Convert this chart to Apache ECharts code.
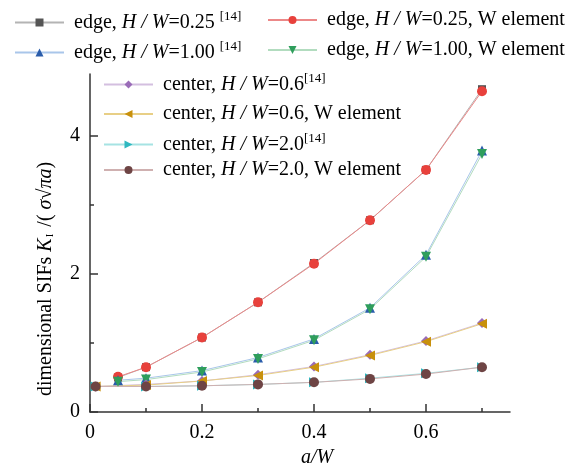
<!DOCTYPE html>
<html>
<head>
<meta charset="utf-8">
<script src="https://cdn.jsdelivr.net/npm/echarts@6/dist/echarts.min.js"></script>
<style>html,body{margin:0;padding:0;background:#fff}#c{width:588px;height:463px}</style>
</head>
<body>
<div id="c"></div>
<script>
// ---- data ----
const xEdge = [0.05, 0.1, 0.2, 0.3, 0.4, 0.5, 0.6, 0.7];
const edge025Ref = [0.50, 0.65, 1.08, 1.59, 2.16, 2.78, 3.51, 4.68];
const edge025W   = [0.51, 0.65, 1.08, 1.59, 2.15, 2.78, 3.51, 4.65];
const edge100Ref = [0.46, 0.49, 0.60, 0.79, 1.06, 1.51, 2.28, 3.79];
const edge100W   = [0.44, 0.47, 0.58, 0.77, 1.04, 1.49, 2.25, 3.74];
const xCenter = [0.01, 0.1, 0.2, 0.3, 0.4, 0.5, 0.6, 0.7];
const center06Ref = [0.37, 0.40, 0.45, 0.54, 0.66, 0.83, 1.03, 1.29];
const center06W   = [0.37, 0.39, 0.45, 0.53, 0.65, 0.82, 1.02, 1.28];
const center20Ref = [0.37, 0.37, 0.38, 0.40, 0.43, 0.49, 0.56, 0.65];
const center20W   = [0.37, 0.37, 0.38, 0.40, 0.43, 0.48, 0.55, 0.65];
const seriesNames = [
  'edge, H/W=0.25 [14]', 'edge, H/W=0.25, W element',
  'edge, H/W=1.00 [14]', 'edge, H/W=1.00, W element',
  'center, H/W=0.6[14]', 'center, H/W=0.6, W element',
  'center, H/W=2.0[14]', 'center, H/W=2.0, W element'
];
const legendRich = {
  'edge, H/W=0.25 [14]': '{n|edge, }{i|H / W}{n|=0.25 }{s|[14]}',
  'edge, H/W=0.25, W element': '{n|edge, }{i|H / W}{n|=0.25, W element}',
  'edge, H/W=1.00 [14]': '{n|edge, }{i|H / W}{n|=1.00 }{s|[14]}',
  'edge, H/W=1.00, W element': '{n|edge, }{i|H / W}{n|=1.00, W element}',
  'center, H/W=0.6[14]': '{n|center, }{i|H / W}{n|=0.6}{s|[14]}',
  'center, H/W=0.6, W element': '{n|center, }{i|H / W}{n|=0.6, W element}',
  'center, H/W=2.0[14]': '{n|center, }{i|H / W}{n|=2.0}{s|[14]}',
  'center, H/W=2.0, W element': '{n|center, }{i|H / W}{n|=2.0, W element}'
};
const xRange = { min: 0, max: 0.75, interval: 0.2 };
const yRange = { min: 0, max: 4.9, interval: 2 };
const xMajorTicks = [0, 0.2, 0.4, 0.6];
const xMinorTicks = [0.1, 0.3, 0.5, 0.7];
const yMajorTicks = [0, 2, 4];
const yMinorTicks = [1, 3];

const FONT = 'Liberation Serif';
const pair = (xs, ys) => xs.map((x, i) => [x, ys[i]]);

const styles = [
  { line: '#b4b4b4', mark: '#555555', symbol: 'rect', size: 8, rot: 0 },
  { line: '#ec8888', mark: '#e8413c', symbol: 'circle', size: 10, rot: 0 },
  { line: '#a9c6ea', mark: '#2a5caa', symbol: 'triangle', size: 10, rot: 0 },
  { line: '#b2dcbf', mark: '#2f9e5c', symbol: 'triangle', size: 10, rot: 180 },
  { line: '#d4bfe0', mark: '#9a6cb8', symbol: 'diamond', size: 10, rot: 0 },
  { line: '#e8cf86', mark: '#c8900c', symbol: 'triangle', size: 10, rot: 90 },
  { line: '#a6e3e3', mark: '#2fb8c0', symbol: 'triangle', size: 10, rot: -90 },
  { line: '#cfb0b0', mark: '#6e4444', symbol: 'circle', size: 10, rot: 0 }
];
const dataSets = [
  pair(xEdge, edge025Ref), pair(xEdge, edge025W),
  pair(xEdge, edge100Ref), pair(xEdge, edge100W),
  pair(xCenter, center06Ref), pair(xCenter, center06W),
  pair(xCenter, center20Ref), pair(xCenter, center20W)
];

const series = seriesNames.map((name, i) => ({
  name, type: 'line', data: dataSets[i],
  xAxisIndex: 0, yAxisIndex: 0,
  symbol: styles[i].symbol, symbolSize: styles[i].size, symbolRotate: styles[i].rot,
  showAllSymbol: true,
  lineStyle: { color: styles[i].line, width: 1 },
  itemStyle: { color: styles[i].mark },
  emphasis: { disabled: true },
  animation: false
}));

const rich = {
  n: { fontFamily: FONT, fontSize: 20, color: '#000' },
  i: { fontFamily: FONT, fontSize: 20, fontStyle: 'italic', color: '#000' },
  s: { fontFamily: FONT, fontSize: 13, color: '#000', padding: [0, 0, 12, 0] }
};
const legendPos = [
  { left: 14, top: 10 }, { left: 267, top: 10 },
  { left: 14, top: 40 }, { left: 267, top: 40 },
  { left: 103, top: 72 }, { left: 103, top: 104 },
  { left: 103, top: 132 }, { left: 103, top: 160 }
];
const legends = seriesNames.map((name, i) => ({
  data: [name], left: legendPos[i].left, top: legendPos[i].top,
  itemWidth: 49, itemHeight: 10, padding: 0,
  formatter: n => legendRich[n],
  textStyle: { fontFamily: FONT, fontSize: 20, color: '#000', rich, padding: [0, 0, 0, 5] },
  selectedMode: false
}));

const AX = '#333';
const tickStyle = { color: AX, width: 1.5 };
const chart = echarts.init(document.getElementById('c'));
chart.setOption({
  backgroundColor: '#fff',
  animation: false,
  legend: legends,
  grid: { left: 90, right: 78, top: 74, bottom: 51, outerBoundsMode: 'none', containLabel: false },
  xAxis: [{
    type: 'value', position: 'bottom', min: xRange.min, max: xRange.max, interval: xRange.interval,
    axisLine: { show: true, lineStyle: { color: AX, width: 1.5 } }, splitLine: { show: false },
    axisTick: { show: true, inside: false, length: -8, customValues: xMajorTicks, lineStyle: tickStyle },
    axisLabel: { fontFamily: FONT, fontSize: 20, color: '#000', margin: 11,
      customValues: xMajorTicks,
      formatter: v => (v === 0 ? '0' : String(+v.toFixed(1))) },
    name: '{i|a}{n|/}{i|W}', nameLocation: 'middle', nameGap: 30,
    nameTextStyle: { rich: { i: { fontFamily: FONT, fontSize: 20, fontStyle: 'italic', color: '#000' },
                             n: { fontFamily: FONT, fontSize: 20, fontStyle: 'italic', color: '#000' } },
                     padding: [0, 0, 0, 34] }
  }, {
    type: 'value', position: 'bottom', min: xRange.min, max: xRange.max, interval: xRange.interval,
    axisLine: { show: false }, splitLine: { show: false }, axisLabel: { show: false },
    axisTick: { show: true, inside: false, length: -4, customValues: xMinorTicks, lineStyle: tickStyle }
  }],
  yAxis: [{
    type: 'value', position: 'left', min: yRange.min, max: yRange.max, interval: yRange.interval,
    axisLine: { show: true, lineStyle: { color: AX, width: 1.5 } }, splitLine: { show: false },
    axisTick: { show: true, inside: false, length: -8, customValues: yMajorTicks, lineStyle: tickStyle },
    axisLabel: { fontFamily: FONT, fontSize: 20, color: '#000', margin: 10, customValues: yMajorTicks },
    name: '{n|dimensional SIFs }{i|K}{b|I}{n| /( }{i|σ}{n|√}{i|πa}{n|)}{p| }',
    nameLocation: 'middle', nameGap: 34, nameRotate: 90,
    nameTextStyle: { rich: {
      n: { fontFamily: FONT, fontSize: 20, color: '#000' },
      i: { fontFamily: FONT, fontSize: 20, fontStyle: 'italic', color: '#000' },
      b: { fontFamily: FONT, fontSize: 11, color: '#000', padding: [8, 2, 0, 1] },
      p: { fontFamily: FONT, fontSize: 20, width: 72 }
    } }
  }, {
    type: 'value', position: 'left', min: yRange.min, max: yRange.max, interval: yRange.interval,
    axisLine: { show: false }, splitLine: { show: false }, axisLabel: { show: false },
    axisTick: { show: true, inside: false, length: -4, customValues: yMinorTicks, lineStyle: tickStyle }
  }],
  series
});
</script>
</body>
</html>
